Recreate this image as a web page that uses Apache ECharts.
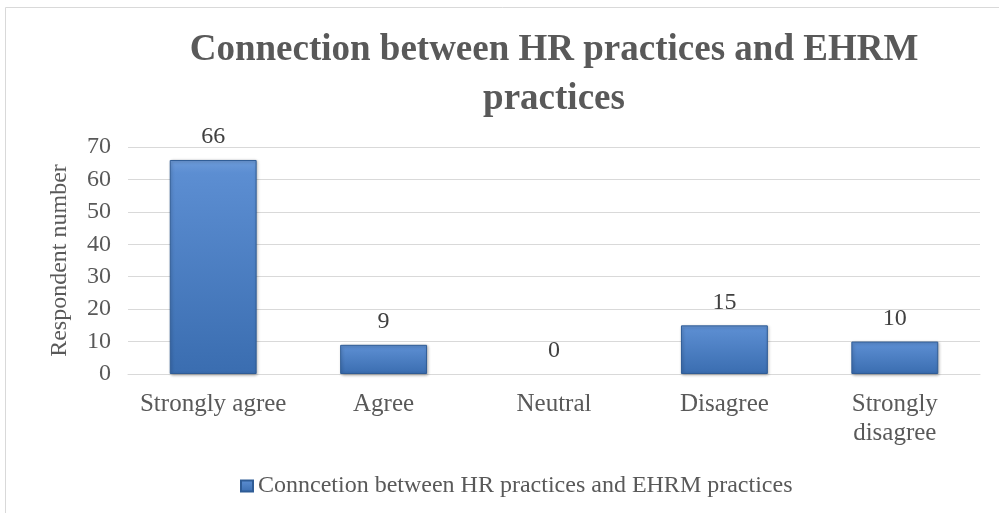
<!DOCTYPE html>
<html>
<head>
<meta charset="utf-8">
<script src="https://cdn.jsdelivr.net/npm/echarts@6/dist/echarts.min.js"></script>
<style>
  html,body{margin:0;padding:0;background:#fff;}
  #chart{width:999px;height:513px;}
</style>
</head>
<body>
<div id="chart"></div>
<script>
var categories = ['Strongly agree', 'Agree', 'Neutral', 'Disagree', 'Strongly\ndisagree'];
var values = [66, 9, 0, 15, 10];
var seriesName = 'Conncetion between HR practices and EHRM practices';
var titleText = 'Connection between HR practices and EHRM\npractices';
var yTicks = {min: 0, max: 70, interval: 10};

var chart = echarts.init(document.getElementById('chart'));

//柱子渐变色
var barColor = new echarts.graphic.LinearGradient(0, 0, 0, 1, [
  {offset: 0, color: '#6e9cda'},
  {offset: 0.06, color: '#5c8ed2'},
  {offset: 1, color: '#3a6db0'}
]);

//值为0时不画边框
var barData = values.map(function (v) {
  return v === 0 ? {value: v, itemStyle: {borderWidth: 0, shadowBlur: 0, shadowOffsetX: 0, shadowOffsetY: 0}} : v;
});

var font = 'Liberation Serif';

chart.setOption({
  animation: false,
  graphic: [{
    type: 'rect',
    shape: {x: 5.5, y: 7.5, width: 1100, height: 700},
    style: {fill: 'none', stroke: '#d9d9d9', lineWidth: 1},
    silent: true
  }],
  title: {
    text: titleText,
    left: 554,
    top: 26,
    textAlign: 'center',
    padding: 0,
    textStyle: {
      fontFamily: font,
      fontWeight: 'bold',
      fontSize: 37,
      lineHeight: 49,
      color: '#595959'
    }
  },
  legend: {
    data: [seriesName],
    left: 240,
    top: 474,
    padding: 0,
    icon: 'rect',
    itemWidth: 12,
    itemHeight: 11,
    textStyle: {
      fontFamily: font,
      fontSize: 24,
      color: '#595959'
    }
  },
  grid: {left: 128, right: 19, top: 147, bottom: 139},
  xAxis: {
    type: 'category',
    data: categories,
    axisLine: {lineStyle: {color: '#d9d9d9'}},
    axisTick: {show: false},
    axisLabel: {
      fontFamily: font,
      fontSize: 25,
      color: '#595959',
      margin: 16,
      lineHeight: 29,
      interval: 0
    }
  },
  yAxis: {
    type: 'value',
    min: yTicks.min,
    max: yTicks.max,
    interval: yTicks.interval,
    name: 'Respondent number',
    nameLocation: 'middle',
    nameGap: 56,
    nameTextStyle: {
      fontFamily: font,
      fontSize: 24,
      color: '#595959'
    },
    axisLine: {show: false},
    axisTick: {show: false},
    axisLabel: {
      fontFamily: font,
      fontSize: 24,
      color: '#595959',
      margin: 17
    },
    splitLine: {lineStyle: {color: '#d9d9d9', width: 1}}
  },
  series: [{
    name: seriesName,
    type: 'bar',
    data: barData,
    barWidth: '51%',
    itemStyle: {
      color: barColor,
      borderColor: '#2f5c96',
      borderWidth: 1,
      shadowColor: 'rgba(0,0,0,0.3)',
      shadowBlur: 3,
      shadowOffsetX: 1,
      shadowOffsetY: 1
    },
    label: {
      show: true,
      position: 'top',
      distance: 11,
      fontFamily: font,
      fontSize: 24,
      color: '#404040'
    }
  }]
});
</script>
</body>
</html>
